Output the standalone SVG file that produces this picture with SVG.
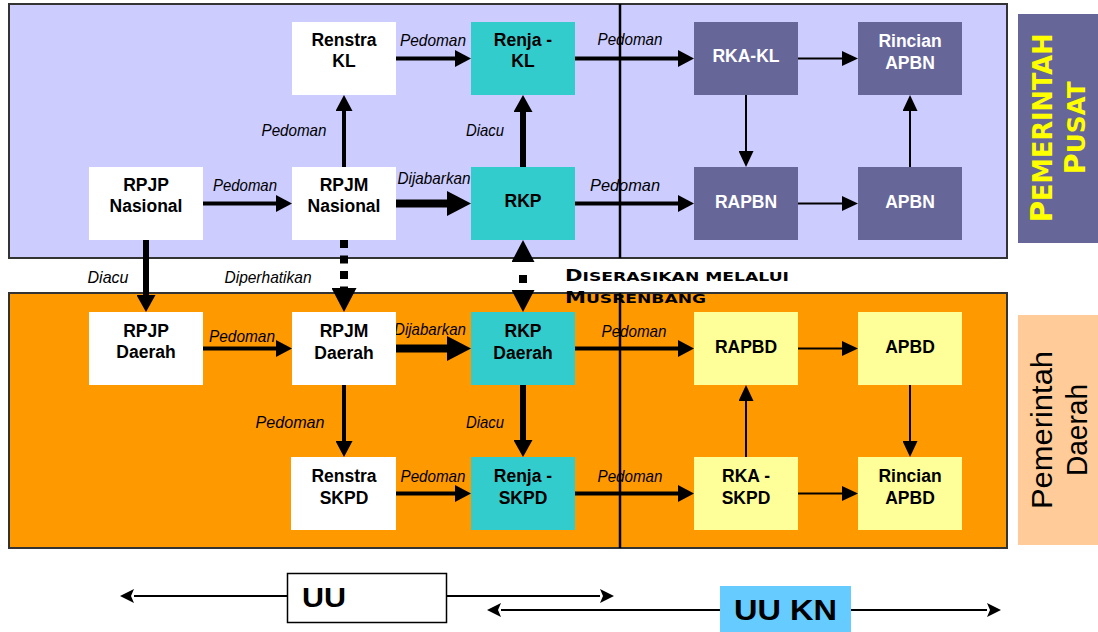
<svg xmlns="http://www.w3.org/2000/svg" width="1098" height="632" viewBox="0 0 1098 632">
<style>
.pnl{stroke:#333;stroke-width:2}
.box{stroke:none}
.w{fill:#fff}.tl{fill:#33CCCC}.pu{fill:#666699}.ye{fill:#FFFF99}
.t{font-family:"Liberation Sans",Arial,sans-serif;font-weight:bold;font-size:17.5px;text-anchor:middle;fill:#000}
.tw{fill:#fff}
.lb{font-family:"Liberation Sans",Arial,sans-serif;font-style:italic;font-size:16.5px;text-anchor:middle;fill:#000}
.c{fill:none;stroke:#000;stroke-linecap:butt}
.thin{stroke-width:2;marker-end:url(#hThin)}
.med{stroke-width:4;marker-end:url(#hMed)}
.bold{stroke-width:6;marker-end:url(#hBold)}
.thick{stroke-width:8;marker-end:url(#hThick)}
.uu{stroke-width:2;marker-end:url(#hUU)}
</style>
<defs>
<marker id="hThin" markerUnits="userSpaceOnUse" markerWidth="16" markerHeight="15" refX="0" refY="7.5" orient="auto-start-reverse"><path d="M0,0L16,7.5L0,15z"/></marker>
<marker id="hMed" markerUnits="userSpaceOnUse" markerWidth="16" markerHeight="17" refX="0" refY="8.5" orient="auto-start-reverse"><path d="M0,0L16,8.5L0,17z"/></marker>
<marker id="hBold" markerUnits="userSpaceOnUse" markerWidth="17" markerHeight="19" refX="0" refY="9.5" orient="auto-start-reverse"><path d="M0,0L17,9.5L0,19z"/></marker>
<marker id="hThick" markerUnits="userSpaceOnUse" markerWidth="24" markerHeight="25" refX="0" refY="12.5" orient="auto-start-reverse"><path d="M0,0L24,12.5L0,25z"/></marker>
<marker id="hDot" markerUnits="userSpaceOnUse" markerWidth="22" markerHeight="23" refX="0" refY="11.5" orient="auto-start-reverse"><path d="M0,0L22,11.5L0,23z"/></marker>
<marker id="hUU" markerUnits="userSpaceOnUse" markerWidth="14" markerHeight="14" refX="0" refY="7" orient="auto-start-reverse"><path d="M0,0L14,7L0,14L3,7z"/></marker>
</defs>
<rect width="1098" height="632" fill="#fff"/>
<!-- panels -->
<g id="panel-pusat"><rect class="pnl" x="9" y="4" width="998" height="254" fill="#CCCCFF"/></g>
<g id="panel-daerah"><rect class="pnl" x="9" y="293" width="998" height="255" fill="#FF9900"/></g>
<g id="divider"><path d="M620,4V258M620,293V548" stroke="#000" stroke-width="2.5"/></g>
<!-- side labels -->
<g id="label-pusat"><rect x="1018" y="14" width="80" height="229" fill="#666699"/>
<g transform="translate(1052,128) rotate(-90)" font-family="'DejaVu Sans',sans-serif" font-weight="bold" fill="#FFFF00" text-anchor="middle">
<text x="0" y="0" textLength="189" lengthAdjust="spacingAndGlyphs"><tspan font-size="30">P</tspan><tspan font-size="26">EMERINTAH</tspan></text>
<text x="0" y="33" textLength="93" lengthAdjust="spacingAndGlyphs"><tspan font-size="28">P</tspan><tspan font-size="24">USAT</tspan></text>
</g></g>
<g id="label-daerah"><rect x="1018" y="315" width="80" height="230" fill="#FFCC99"/>
<g transform="translate(1052,430) rotate(-90)" font-family="'Liberation Sans',Arial,sans-serif" font-size="30" fill="#000" text-anchor="middle">
<text x="0" y="0" textLength="158" lengthAdjust="spacingAndGlyphs">Pemerintah</text>
<text x="0" y="35" textLength="92" lengthAdjust="spacingAndGlyphs">Daerah</text>
</g></g>
<!-- connectors -->
<g id="connectors">
<path class="c med" d="M203,203.5H276"/>
<path class="c thick" d="M396,203.5H447"/>
<path class="c med" d="M344,167V111"/>
<path class="c med" d="M396,58.5H455"/>
<path class="c bold" d="M523,167V112"/>
<path class="c med" d="M575,58.5H678"/>
<path class="c med" d="M575,203.5H678"/>
<path class="c thin" d="M798,58.5H842"/>
<path class="c thin" d="M746,95V151"/>
<path class="c thin" d="M798,203.5H842"/>
<path class="c thin" d="M910,167V111"/>
<path class="c bold" d="M146,240V295"/>
<path class="c" d="M344,240V288" stroke-width="8" stroke-dasharray="8 7.5" marker-end="url(#hThick)"/>
<path class="c" d="M523,262V290" stroke-width="8" stroke-dasharray="0 13 8 20" marker-start="url(#hDot)" marker-end="url(#hDot)"/>
<path class="c med" d="M203,348.5H276"/>
<path class="c thick" d="M396,348.5H447"/>
<path class="c med" d="M344,385V441"/>
<path class="c bold" d="M523,385V440"/>
<path class="c med" d="M396,493.5H455"/>
<path class="c med" d="M575,348.5H678"/>
<path class="c med" d="M575,493.5H678"/>
<path class="c thin" d="M798,348.5H842"/>
<path class="c thin" d="M746,457V401"/>
<path class="c thin" d="M910,385V441"/>
<path class="c thin" d="M798,493.5H842"/>
<text class="lb" x="433" y="46" textLength="66" lengthAdjust="spacingAndGlyphs">Pedoman</text>
<text class="lb" x="245" y="191" textLength="64" lengthAdjust="spacingAndGlyphs">Pedoman</text>
<text class="lb" x="294" y="136" textLength="65" lengthAdjust="spacingAndGlyphs">Pedoman</text>
<text class="lb" x="485" y="136" textLength="38" lengthAdjust="spacingAndGlyphs">Diacu</text>
<text class="lb" x="434" y="184" textLength="73" lengthAdjust="spacingAndGlyphs">Dijabarkan</text>
<text class="lb" x="630" y="45" textLength="65" lengthAdjust="spacingAndGlyphs">Pedoman</text>
<text class="lb" x="625" y="191" textLength="70" lengthAdjust="spacingAndGlyphs">Pedoman</text>
<text class="lb" x="108" y="283" textLength="41" lengthAdjust="spacingAndGlyphs">Diacu</text>
<text class="lb" x="268" y="283" textLength="87" lengthAdjust="spacingAndGlyphs">Diperhatikan</text>
<text class="lb" x="242" y="342" textLength="66" lengthAdjust="spacingAndGlyphs">Pedoman</text>
<text class="lb" x="430" y="335" textLength="72" lengthAdjust="spacingAndGlyphs">Dijabarkan</text>
<text class="lb" x="290" y="428" textLength="69" lengthAdjust="spacingAndGlyphs">Pedoman</text>
<text class="lb" x="485" y="428" textLength="38" lengthAdjust="spacingAndGlyphs">Diacu</text>
<text class="lb" x="433" y="482" textLength="65" lengthAdjust="spacingAndGlyphs">Pedoman</text>
<text class="lb" x="634" y="337" textLength="65" lengthAdjust="spacingAndGlyphs">Pedoman</text>
<text class="lb" x="630" y="482" textLength="65" lengthAdjust="spacingAndGlyphs">Pedoman</text>
<g font-family="'DejaVu Sans',sans-serif" font-weight="bold" fill="#000">
<text x="565" y="281" textLength="224" lengthAdjust="spacingAndGlyphs"><tspan font-size="16">D</tspan><tspan font-size="13">ISERASIKAN MELALUI</tspan></text>
<text x="565" y="303" textLength="141" lengthAdjust="spacingAndGlyphs"><tspan font-size="16">M</tspan><tspan font-size="13">USRENBANG</tspan></text>
</g>
</g>
<!-- nodes: pusat -->
<g id="renstra-kl"><rect class="box w" x="292" y="22" width="104" height="73"/><text class="t" x="344" y="46">Renstra</text><text class="t" x="344" y="67">KL</text></g>
<g id="renja-kl"><rect class="box tl" x="471" y="22" width="104" height="73"/><text class="t" x="523" y="46">Renja -</text><text class="t" x="523" y="67">KL</text></g>
<g id="rka-kl"><rect class="box pu" x="694" y="22" width="104" height="73"/><text class="t tw" x="746" y="62">RKA-KL</text></g>
<g id="rincian-apbn"><rect class="box pu" x="858" y="22" width="104" height="73"/><text class="t tw" x="910" y="47">Rincian</text><text class="t tw" x="910" y="69">APBN</text></g>
<g id="rpjp-nasional"><rect class="box w" x="89" y="167" width="114" height="73"/><text class="t" x="146" y="191">RPJP</text><text class="t" x="146" y="212">Nasional</text></g>
<g id="rpjm-nasional"><rect class="box w" x="292" y="167" width="104" height="73"/><text class="t" x="344" y="191">RPJM</text><text class="t" x="344" y="212">Nasional</text></g>
<g id="rkp"><rect class="box tl" x="471" y="167" width="104" height="73"/><text class="t" x="523" y="207">RKP</text></g>
<g id="rapbn"><rect class="box pu" x="694" y="167" width="104" height="73"/><text class="t tw" x="746" y="208">RAPBN</text></g>
<g id="apbn"><rect class="box pu" x="858" y="167" width="104" height="73"/><text class="t tw" x="910" y="208">APBN</text></g>
<!-- nodes: daerah -->
<g id="rpjp-daerah"><rect class="box w" x="89" y="312" width="114" height="73"/><text class="t" x="146" y="337">RPJP</text><text class="t" x="146" y="358">Daerah</text></g>
<g id="rpjm-daerah"><rect class="box w" x="292" y="312" width="104" height="73"/><text class="t" x="344" y="337">RPJM</text><text class="t" x="344" y="359">Daerah</text></g>
<g id="rkp-daerah"><rect class="box tl" x="471" y="312" width="104" height="73"/><text class="t" x="523" y="337">RKP</text><text class="t" x="523" y="359">Daerah</text></g>
<g id="rapbd"><rect class="box ye" x="694" y="312" width="104" height="73"/><text class="t" x="746" y="353">RAPBD</text></g>
<g id="apbd"><rect class="box ye" x="858" y="312" width="104" height="73"/><text class="t" x="910" y="353">APBD</text></g>
<g id="renstra-skpd"><rect class="box w" x="291" y="457" width="105" height="73"/><text class="t" x="344" y="482">Renstra</text><text class="t" x="344" y="504">SKPD</text></g>
<g id="renja-skpd"><rect class="box tl" x="471" y="457" width="104" height="73"/><text class="t" x="523" y="482">Renja -</text><text class="t" x="523" y="504">SKPD</text></g>
<g id="rka-skpd"><rect class="box ye" x="694" y="457" width="104" height="73"/><text class="t" x="746" y="482">RKA -</text><text class="t" x="746" y="504">SKPD</text></g>
<g id="rincian-apbd"><rect class="box ye" x="858" y="457" width="104" height="73"/><text class="t" x="910" y="482">Rincian</text><text class="t" x="910" y="504">APBD</text></g>
<!-- bottom legend -->
<g id="uu-arrows">
<path class="c uu" d="M287,596H134"/>
<path class="c uu" d="M446,596H600"/>
<path class="c uu" d="M720,610H501"/>
<path class="c uu" d="M851,610H987"/>
</g>
<g id="uu"><rect x="287.5" y="573.5" width="159" height="49" fill="#fff" stroke="#000" stroke-width="1.5"/><text x="302" y="607" font-family="'Liberation Sans',Arial,sans-serif" font-weight="bold" font-size="28" textLength="44" lengthAdjust="spacingAndGlyphs">UU</text></g>
<g id="uu-kn"><rect x="720" y="586" width="131" height="46" fill="#66CCFF"/><text x="785.5" y="620" text-anchor="middle" font-family="'Liberation Sans',Arial,sans-serif" font-weight="bold" font-size="30" textLength="103" lengthAdjust="spacingAndGlyphs">UU KN</text></g>
</svg>
